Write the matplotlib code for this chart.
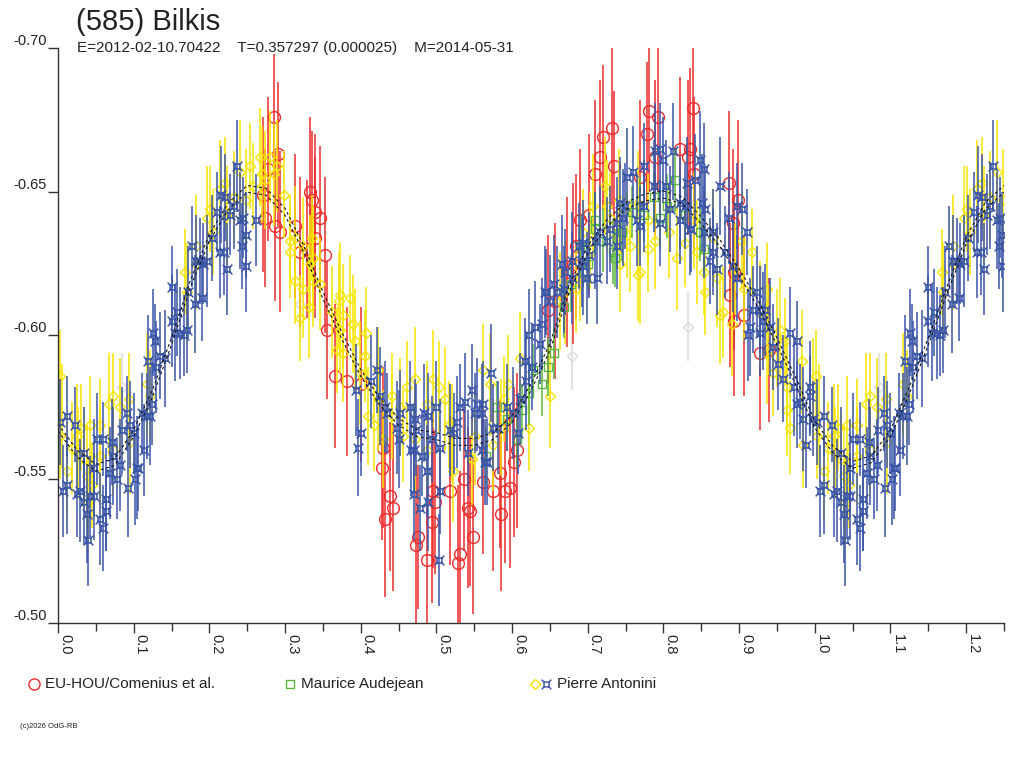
# lightcurve of (585) Bilkis, phase plot in the OdG style

import matplotlib
matplotlib.use('Agg')
import matplotlib.pyplot as plt
from matplotlib.path import Path
from matplotlib.ticker import MultipleLocator, FormatStrFormatter
import numpy as np

plt.rcParams['font.family'] = ['Liberation Sans', 'DejaVu Sans']
plt.rcParams['axes.unicode_minus'] = False

# ------ Texts ------
title = '(585) Bilkis'
subtitle = 'E=2012-02-10.70422    T=0.357297 (0.000025)    M=2014-05-31'
footer = '(c)2026 OdG-RB'
legend_names = ['EU-HOU/Comenius et al.', 'Maurice Audejean', 'Pierre Antonini']

# ------ Fit curve (phase, mag) ------
fit_phase = [0.000, 0.025, 0.050, 0.075, 0.100, 0.125, 0.150, 0.175, 0.200, 0.225,
             0.250, 0.275, 0.300, 0.325, 0.350, 0.375, 0.400, 0.425, 0.450, 0.475,
             0.500, 0.525, 0.550, 0.575, 0.600, 0.625, 0.650, 0.675, 0.700, 0.725,
             0.750, 0.775, 0.800, 0.825, 0.850, 0.875, 0.900, 0.925, 0.950, 0.975,
             1.000, 1.025, 1.050, 1.075, 1.100, 1.125, 1.150, 1.175, 1.200, 1.225, 1.250]
fit_mag = [-0.568, -0.559, -0.554, -0.556, -0.566, -0.580, -0.598, -0.618, -0.634, -0.645,
           -0.651, -0.650, -0.643, -0.630, -0.614, -0.600, -0.587, -0.577, -0.570, -0.566,
           -0.565, -0.563, -0.563, -0.565, -0.571, -0.582, -0.596, -0.616, -0.630, -0.639,
           -0.645, -0.648, -0.649, -0.647, -0.640, -0.632, -0.622, -0.611, -0.598, -0.584,
           -0.569, -0.560, -0.555, -0.557, -0.566, -0.581, -0.598, -0.616, -0.633, -0.645, -0.651]
fit_sigma = 0.0012

# ------ Observations (phase, mag, error) ------
# Pierre Antonini, session 2 (blue)
blue = [
    (0.967, -0.601, 0.016), (0.976, -0.598, 0.014), (0.972, -0.582, 0.017), (0.976, -0.576, 0.015),
    (0.981, -0.577, 0.013), (0.994, -0.582, 0.016), (0.994, -0.579, 0.014), (0.985, -0.571, 0.018),
    (0.989, -0.562, 0.015), (0.998, -0.571, 0.013), (0.003, -0.570, 0.015), (0.012, -0.572, 0.014),
    (0.012, -0.548, 0.017), (0.007, -0.546, 0.016), (0.025, -0.545, 0.015), (0.023, -0.569, 0.013),
    (0.029, -0.546, 0.018), (0.034, -0.559, 0.016), (0.034, -0.542, 0.015), (0.038, -0.538, 0.017),
    (0.040, -0.529, 0.016), (0.042, -0.544, 0.014), (0.047, -0.544, 0.015), (0.047, -0.554, 0.017),
    (0.051, -0.564, 0.016), (0.060, -0.564, 0.013), (0.056, -0.536, 0.016), (0.060, -0.533, 0.015),
    (0.064, -0.543, 0.018), (0.064, -0.539, 0.014), (0.069, -0.552, 0.016), (0.071, -0.563, 0.015),
    (0.073, -0.558, 0.017), (0.078, -0.550, 0.014), (0.082, -0.555, 0.016), (0.084, -0.567, 0.015),
    (0.091, -0.573, 0.013), (0.093, -0.547, 0.017), (0.095, -0.569, 0.015), (0.100, -0.566, 0.014),
    (0.102, -0.550, 0.016), (0.104, -0.554, 0.018), (0.106, -0.554, 0.015), (0.111, -0.573, 0.014),
    (0.113, -0.560, 0.016), (0.117, -0.572, 0.015), (0.122, -0.572, 0.017), (0.124, -0.576, 0.014),
    (0.119, -0.591, 0.016), (0.126, -0.601, 0.015), (0.128, -0.598, 0.013), (0.130, -0.589, 0.016),
    (0.135, -0.593, 0.015), (0.141, -0.592, 0.017), (0.150, -0.605, 0.016), (0.150, -0.617, 0.014),
    (0.157, -0.608, 0.015), (0.155, -0.601, 0.017), (0.161, -0.601, 0.016), (0.166, -0.600, 0.014),
    (0.170, -0.602, 0.015), (0.172, -0.615, 0.016), (0.177, -0.631, 0.014), (0.183, -0.626, 0.016),
    (0.188, -0.626, 0.015), (0.181, -0.611, 0.017), (0.190, -0.613, 0.015), (0.192, -0.625, 0.014),
    (0.197, -0.626, 0.016), (0.203, -0.634, 0.015), (0.210, -0.643, 0.014), (0.214, -0.629, 0.016),
    (0.219, -0.629, 0.015), (0.216, -0.649, 0.017), (0.221, -0.648, 0.015), (0.223, -0.623, 0.016),
    (0.227, -0.642, 0.014), (0.236, -0.659, 0.016), (0.232, -0.645, 0.015), (0.241, -0.640, 0.017),
    (0.243, -0.631, 0.015), (0.245, -0.641, 0.014), (0.249, -0.624, 0.016), (0.248, -0.635, 0.015),
    (0.262, -0.640, 0.016),
    (0.394, -0.581, 0.016), (0.401, -0.566, 0.015), (0.397, -0.561, 0.017), (0.413, -0.584, 0.016),
    (0.422, -0.588, 0.015), (0.426, -0.579, 0.017), (0.432, -0.575, 0.016), (0.435, -0.573, 0.014),
    (0.448, -0.568, 0.016), (0.452, -0.573, 0.015), (0.451, -0.564, 0.017), (0.465, -0.575, 0.016),
    (0.472, -0.571, 0.014), (0.473, -0.567, 0.016), (0.470, -0.560, 0.015), (0.483, -0.573, 0.017),
    (0.489, -0.572, 0.015), (0.500, -0.575, 0.016), (0.481, -0.558, 0.014), (0.487, -0.553, 0.016),
    (0.494, -0.564, 0.015), (0.505, -0.561, 0.017), (0.518, -0.567, 0.016), (0.523, -0.566, 0.014),
    (0.527, -0.570, 0.016), (0.531, -0.575, 0.015), (0.538, -0.577, 0.017), (0.547, -0.581, 0.016),
    (0.542, -0.559, 0.015), (0.551, -0.573, 0.014), (0.553, -0.576, 0.016), (0.562, -0.576, 0.015),
    (0.560, -0.573, 0.017), (0.560, -0.560, 0.016), (0.564, -0.556, 0.015), (0.572, -0.587, 0.017),
    (0.575, -0.568, 0.015), (0.582, -0.568, 0.016), (0.593, -0.575, 0.015), (0.601, -0.573, 0.016),
    (0.608, -0.566, 0.014), (0.611, -0.578, 0.016), (0.617, -0.591, 0.015), (0.619, -0.584, 0.017),
    (0.622, -0.600, 0.016), (0.626, -0.589, 0.015), (0.630, -0.603, 0.016), (0.637, -0.597, 0.014),
    (0.639, -0.604, 0.016), (0.645, -0.615, 0.015), (0.655, -0.618, 0.017), (0.659, -0.615, 0.016),
    (0.470, -0.545, 0.016), (0.478, -0.540, 0.015), (0.489, -0.542, 0.017), (0.503, -0.522, 0.016),
    (0.505, -0.546, 0.015), (0.467, -0.560, 0.016), (0.567, -0.556, 0.015),
    (0.644, -0.615, 0.016), (0.670, -0.622, 0.015), (0.679, -0.626, 0.017), (0.692, -0.626, 0.016),
    (0.701, -0.628, 0.015), (0.712, -0.620, 0.016), (0.710, -0.633, 0.017), (0.730, -0.637, 0.015),
    (0.738, -0.639, 0.016), (0.749, -0.645, 0.015), (0.752, -0.655, 0.017), (0.760, -0.657, 0.016),
    (0.774, -0.659, 0.015), (0.765, -0.640, 0.016), (0.769, -0.638, 0.014), (0.787, -0.652, 0.016),
    (0.789, -0.664, 0.017), (0.796, -0.665, 0.016), (0.800, -0.661, 0.015), (0.804, -0.652, 0.016),
    (0.809, -0.644, 0.015), (0.813, -0.664, 0.017), (0.822, -0.646, 0.016), (0.822, -0.640, 0.015),
    (0.831, -0.653, 0.016), (0.837, -0.637, 0.015), (0.848, -0.661, 0.017), (0.853, -0.658, 0.016),
    (0.855, -0.644, 0.015), (0.853, -0.636, 0.016), (0.866, -0.636, 0.015), (0.875, -0.652, 0.017),
    (0.886, -0.641, 0.016), (0.897, -0.645, 0.015), (0.892, -0.624, 0.016), (0.897, -0.620, 0.015),
    (0.774, -0.645, 0.016), (0.796, -0.639, 0.015), (0.699, -0.620, 0.016), (0.694, -0.632, 0.015),
    (0.694, -0.624, 0.017), (0.716, -0.636, 0.016), (0.725, -0.633, 0.015), (0.743, -0.646, 0.016),
    (0.738, -0.631, 0.015), (0.747, -0.641, 0.017), (0.650, -0.612, 0.016), (0.668, -0.616, 0.015),
    (0.679, -0.620, 0.016), (0.688, -0.631, 0.015), (0.666, -0.625, 0.017), (0.904, -0.644, 0.016),
    (0.910, -0.636, 0.015), (0.923, -0.615, 0.016), (0.919, -0.609, 0.015), (0.915, -0.603, 0.017),
    (0.912, -0.600, 0.016), (0.928, -0.609, 0.015), (0.934, -0.609, 0.016), (0.928, -0.601, 0.015),
    (0.932, -0.605, 0.017), (0.882, -0.629, 0.016), (0.866, -0.629, 0.015), (0.871, -0.623, 0.016),
    (0.862, -0.626, 0.015), (0.851, -0.646, 0.017), (0.842, -0.654, 0.016), (0.829, -0.645, 0.015),
    (0.835, -0.637, 0.016), (0.945, -0.596, 0.015), (0.952, -0.590, 0.016), (0.958, -0.585, 0.015),
    (0.941, -0.603, 0.017),
]

# Pierre Antonini, session 1 (yellow)
yellow = [
    (0.002, -0.586, 0.016), (0.005, -0.572, 0.018), (0.003, -0.565, 0.015), (0.012, -0.553, 0.017),
    (0.018, -0.561, 0.016), (0.025, -0.565, 0.018), (0.031, -0.568, 0.015), (0.042, -0.569, 0.017),
    (0.056, -0.569, 0.016), (0.067, -0.576, 0.018), (0.073, -0.579, 0.015), (0.082, -0.575, 0.017),
    (0.094, -0.578, 0.016), (0.038, -0.551, 0.018), (0.045, -0.548, 0.015), (0.056, -0.558, 0.017),
    (0.073, -0.560, 0.016), (0.095, -0.563, 0.018), (0.040, -0.542, 0.015), (0.034, -0.557, 0.017),
    (0.027, -0.559, 0.016), (0.954, -0.602, 0.018), (0.961, -0.598, 0.015), (0.963, -0.582, 0.017),
    (0.963, -0.574, 0.016), (0.983, -0.591, 0.018), (0.985, -0.562, 0.015), (0.998, -0.582, 0.017),
    (0.122, -0.579, 0.016), (0.117, -0.583, 0.018), (0.168, -0.622, 0.015), (0.170, -0.615, 0.017),
    (0.183, -0.625, 0.016), (0.197, -0.641, 0.018), (0.201, -0.644, 0.015), (0.214, -0.651, 0.017),
    (0.221, -0.653, 0.016), (0.241, -0.657, 0.018), (0.254, -0.659, 0.015), (0.267, -0.662, 0.017),
    (0.280, -0.662, 0.016), (0.183, -0.631, 0.018), (0.205, -0.636, 0.015), (0.223, -0.642, 0.017),
    (0.232, -0.648, 0.016), (0.249, -0.647, 0.018), (0.258, -0.652, 0.015), (0.269, -0.656, 0.017),
    (0.289, -0.659, 0.016), (0.285, -0.656, 0.018), (0.298, -0.649, 0.015), (0.274, -0.654, 0.017),
    (0.307, -0.629, 0.016), (0.313, -0.634, 0.018), (0.335, -0.634, 0.015), (0.324, -0.631, 0.017),
    (0.307, -0.633, 0.016), (0.337, -0.627, 0.018), (0.313, -0.619, 0.015), (0.324, -0.616, 0.017),
    (0.346, -0.618, 0.016), (0.373, -0.614, 0.018), (0.386, -0.613, 0.015), (0.333, -0.625, 0.017),
    (0.337, -0.619, 0.016), (0.331, -0.610, 0.018), (0.320, -0.606, 0.015), (0.371, -0.612, 0.017),
    (0.362, -0.608, 0.016), (0.377, -0.607, 0.018), (0.373, -0.602, 0.015), (0.390, -0.604, 0.017),
    (0.407, -0.601, 0.016), (0.393, -0.598, 0.018), (0.368, -0.595, 0.015), (0.377, -0.594, 0.017),
    (0.406, -0.593, 0.016), (0.399, -0.587, 0.018), (0.423, -0.588, 0.015), (0.410, -0.572, 0.017),
    (0.417, -0.569, 0.016), (0.423, -0.578, 0.018), (0.441, -0.579, 0.015), (0.452, -0.575, 0.017),
    (0.461, -0.582, 0.016), (0.472, -0.585, 0.018), (0.487, -0.576, 0.015), (0.496, -0.585, 0.017),
    (0.504, -0.582, 0.016), (0.511, -0.578, 0.018), (0.516, -0.569, 0.015), (0.520, -0.566, 0.017),
    (0.562, -0.588, 0.016), (0.571, -0.583, 0.018), (0.589, -0.578, 0.015), (0.595, -0.583, 0.017),
    (0.610, -0.592, 0.016), (0.650, -0.579, 0.018), (0.622, -0.568, 0.015), (0.586, -0.568, 0.017),
    (0.547, -0.557, 0.016), (0.522, -0.553, 0.018), (0.441, -0.572, 0.015), (0.430, -0.564, 0.017),
    (0.456, -0.565, 0.016), (0.472, -0.564, 0.018), (0.487, -0.560, 0.015), (0.551, -0.565, 0.017),
    (0.575, -0.562, 0.016), (0.670, -0.615, 0.018), (0.685, -0.616, 0.015), (0.723, -0.652, 0.017),
    (0.725, -0.645, 0.016), (0.741, -0.647, 0.018), (0.752, -0.635, 0.015), (0.743, -0.625, 0.017),
    (0.756, -0.631, 0.016), (0.769, -0.622, 0.018), (0.780, -0.630, 0.015), (0.789, -0.633, 0.017),
    (0.807, -0.636, 0.016), (0.818, -0.627, 0.018), (0.829, -0.632, 0.015), (0.840, -0.640, 0.017),
    (0.780, -0.640, 0.016), (0.767, -0.646, 0.018), (0.853, -0.622, 0.015), (0.866, -0.634, 0.017),
    (0.730, -0.641, 0.016), (0.707, -0.645, 0.018), (0.694, -0.636, 0.015), (0.703, -0.633, 0.017),
    (0.767, -0.621, 0.016), (0.844, -0.629, 0.018), (0.855, -0.615, 0.015), (0.875, -0.607, 0.017),
    (0.879, -0.608, 0.016), (0.890, -0.604, 0.018), (0.917, -0.629, 0.015), (0.904, -0.633, 0.017),
    (0.937, -0.616, 0.016), (0.928, -0.608, 0.018), (0.939, -0.602, 0.015), (0.950, -0.599, 0.017),
    (0.967, -0.568, 0.016), (0.937, -0.594, 0.018), (0.945, -0.587, 0.015), (0.871, -0.620, 0.017),
    (0.895, -0.623, 0.016), (0.906, -0.616, 0.018), (0.690, -0.620, 0.015), (0.663, -0.612, 0.017),
]

# EU-HOU/Comenius et al. (red)
red = [
    (0.285, -0.676, 0.022), (0.291, -0.663, 0.025), (0.271, -0.649, 0.027), (0.274, -0.641, 0.024),
    (0.287, -0.638, 0.026), (0.293, -0.636, 0.028), (0.278, -0.658, 0.025), (0.333, -0.650, 0.026),
    (0.335, -0.647, 0.024), (0.340, -0.643, 0.027), (0.346, -0.641, 0.025), (0.340, -0.634, 0.028),
    (0.320, -0.629, 0.026), (0.329, -0.630, 0.024), (0.353, -0.628, 0.027), (0.366, -0.586, 0.025),
    (0.382, -0.584, 0.026), (0.356, -0.602, 0.024), (0.401, -0.583, 0.027), (0.430, -0.561, 0.028),
    (0.428, -0.554, 0.025), (0.439, -0.544, 0.026), (0.442, -0.540, 0.029), (0.432, -0.536, 0.027),
    (0.476, -0.530, 0.025), (0.473, -0.527, 0.028), (0.487, -0.522, 0.026), (0.496, -0.546, 0.027),
    (0.498, -0.542, 0.025), (0.494, -0.535, 0.028), (0.518, -0.546, 0.026), (0.531, -0.524, 0.029),
    (0.529, -0.521, 0.027), (0.536, -0.550, 0.025), (0.542, -0.540, 0.028), (0.545, -0.539, 0.026),
    (0.548, -0.530, 0.027), (0.562, -0.549, 0.025), (0.575, -0.546, 0.028), (0.584, -0.552, 0.026),
    (0.586, -0.538, 0.027), (0.591, -0.546, 0.025), (0.597, -0.547, 0.028), (0.602, -0.556, 0.026),
    (0.606, -0.560, 0.027), (0.690, -0.640, 0.025), (0.701, -0.642, 0.028), (0.710, -0.656, 0.026),
    (0.716, -0.662, 0.027), (0.720, -0.669, 0.025), (0.732, -0.672, 0.028), (0.735, -0.659, 0.026),
    (0.769, -0.655, 0.027), (0.778, -0.670, 0.025), (0.781, -0.678, 0.028), (0.793, -0.676, 0.026),
    (0.789, -0.662, 0.027), (0.822, -0.665, 0.025), (0.835, -0.665, 0.028), (0.839, -0.679, 0.026),
    (0.833, -0.662, 0.027), (0.886, -0.653, 0.025), (0.899, -0.647, 0.028), (0.892, -0.639, 0.026),
    (0.840, -0.656, 0.027), (0.685, -0.631, 0.025), (0.681, -0.625, 0.028), (0.672, -0.622, 0.026),
    (0.893, -0.622, 0.027), (0.888, -0.614, 0.025), (0.906, -0.607, 0.028), (0.893, -0.605, 0.026),
    (0.928, -0.594, 0.027), (0.939, -0.595, 0.025), (0.648, -0.609, 0.026), (0.657, -0.612, 0.027),
    (0.313, -0.638, 0.025),
]

# Maurice Audejean (green)
green = [
    (0.566, -0.558, 0.010), (0.580, -0.575, 0.009), (0.593, -0.571, 0.011), (0.606, -0.564, 0.010),
    (0.628, -0.588, 0.009), (0.639, -0.583, 0.011), (0.648, -0.589, 0.010), (0.655, -0.594, 0.009),
    (0.690, -0.631, 0.011), (0.710, -0.640, 0.010), (0.710, -0.637, 0.009), (0.734, -0.629, 0.011),
    (0.736, -0.627, 0.010), (0.774, -0.642, 0.009), (0.815, -0.654, 0.011), (0.769, -0.645, 0.010),
    (0.787, -0.648, 0.009), (0.796, -0.641, 0.011), (0.848, -0.636, 0.010), (0.853, -0.630, 0.009),
    (0.668, -0.610, 0.011), (0.678, -0.618, 0.010), (0.700, -0.625, 0.009), (0.720, -0.633, 0.011),
    (0.745, -0.636, 0.010), (0.758, -0.643, 0.009), (0.805, -0.645, 0.011), (0.828, -0.642, 0.010),
    (0.613, -0.574, 0.009), (0.622, -0.580, 0.011),
]

# unlabelled observer (light grey)
grey = [
    (0.320, -0.611, 0.012), (0.679, -0.593, 0.012), (0.832, -0.603, 0.012),
    (0.930, -0.612, 0.012), (0.085, -0.582, 0.012),
]

# ------ Colours ------
c_red = '#ee2a2a'
c_green = '#5cb83c'
c_yellow = '#f7e400'
c_blue = '#3a55a8'
c_grey = '#dadada'
c_axis = '#333333'

# blue marker: a small square with spikes at its corners
M, L = Path.MOVETO, Path.LINETO
star_verts = [(-0.5, -0.5), (0.5, -0.5), (0.5, 0.5), (-0.5, 0.5), (-0.5, -0.5),
              (-0.5, -0.5), (-1, -1), (0.5, -0.5), (1, -1),
              (0.5, 0.5), (1, 1), (-0.5, 0.5), (-1, 1)]
star_codes = [M, L, L, L, L, M, L, M, L, M, L, M, L]
star = Path(star_verts, star_codes)


def wrap(pts):
    # phases below 0.25 are shown again after phase 1
    pts = pts + [(p + 1, m, e) for p, m, e in pts if p < 0.25]
    ph, mag, err = zip(*pts)
    return np.array(ph), np.array(mag), np.array(err)


def draw(ax, pts, color, marker, ms, mew=1.0):
    ph, mag, err = wrap(pts)
    ax.errorbar(ph, mag, yerr=err, fmt='none', ecolor=color, elinewidth=1.1, capsize=0)
    ax.plot(ph, mag, ls='none', marker=marker, ms=ms, mfc='none', mec=color, mew=mew)


# ------ Figure ------
fig = plt.figure(figsize=(10.24, 7.68), dpi=100)
ax = fig.add_axes([58 / 1024, 1 - 623 / 768, 946 / 1024, 575 / 768])

draw(ax, grey, c_grey, 'D', 5)
draw(ax, red, c_red, 'o', 8.5)
draw(ax, yellow, c_yellow, 'D', 5.2)
draw(ax, green, c_green, 's', 5.5)
draw(ax, blue, c_blue, star, 7, 1.1)

fp = np.array(fit_phase)
fm = np.array(fit_mag)
ax.plot(fp, fm - fit_sigma, color='#111111', lw=0.8, ls=(0, (2.5, 2.5)))
ax.plot(fp, fm + fit_sigma, color='#111111', lw=0.8, ls=(0, (2.5, 2.5)))

# ------ Axes ------
ax.set_xlim(0, 1.25)
ax.set_ylim(-0.50, -0.70)
for side in ['top', 'right']:
    ax.spines[side].set_visible(False)
for side in ['left', 'bottom']:
    ax.spines[side].set_color(c_axis)
    ax.spines[side].set_linewidth(1.0)

ax.xaxis.set_major_locator(MultipleLocator(0.1))
ax.xaxis.set_minor_locator(MultipleLocator(0.05))
ax.xaxis.set_major_formatter(FormatStrFormatter('%.1f'))
ax.yaxis.set_major_locator(MultipleLocator(0.05))
ax.yaxis.set_major_formatter(FormatStrFormatter('%.2f'))
ax.tick_params(axis='both', which='major', direction='out', length=7.2, width=1.0,
               color=c_axis, labelcolor='#222222', labelsize=10.5, pad=1)
ax.tick_params(axis='x', which='minor', direction='out', length=6, width=1.0, color=c_axis)
for lab in ax.get_xticklabels():
    lab.set_rotation(-90)
    lab.set_ha('left')
    lab.set_va('top')
for lab in ax.get_yticklabels():
    lab.set_va('bottom')

# ------ Titles, legend, footer (pixel coordinates) ------
lax = fig.add_axes([0, 0, 1, 1], facecolor='none')
lax.set_xlim(0, 1024)
lax.set_ylim(768, 0)
lax.axis('off')

lax.text(76, 30, title, fontsize=21, color='#222222', va='baseline', ha='left')
lax.text(77, 52, subtitle, fontsize=11, color='#222222', va='baseline', ha='left')

lax.plot(34, 684, marker='o', ms=8, mfc='none', mec=c_red, mew=1.0)
lax.text(45, 684, legend_names[0], fontsize=11, color='#222222', va='center', ha='left')
lax.plot(290, 684, marker='s', ms=6, mfc='none', mec=c_green, mew=1.0)
lax.text(301, 684, legend_names[1], fontsize=11, color='#222222', va='center', ha='left')
lax.plot(535, 684, marker='D', ms=5.5, mfc='none', mec=c_yellow, mew=1.0)
lax.plot(546, 684, marker=star, ms=7, mfc='none', mec=c_blue, mew=1.0)
lax.text(557, 684, legend_names[2], fontsize=11, color='#222222', va='center', ha='left')

lax.text(20, 726, footer, fontsize=5.5, color='#222222', va='center', ha='left')

fig.savefig('out.png', dpi=100)
